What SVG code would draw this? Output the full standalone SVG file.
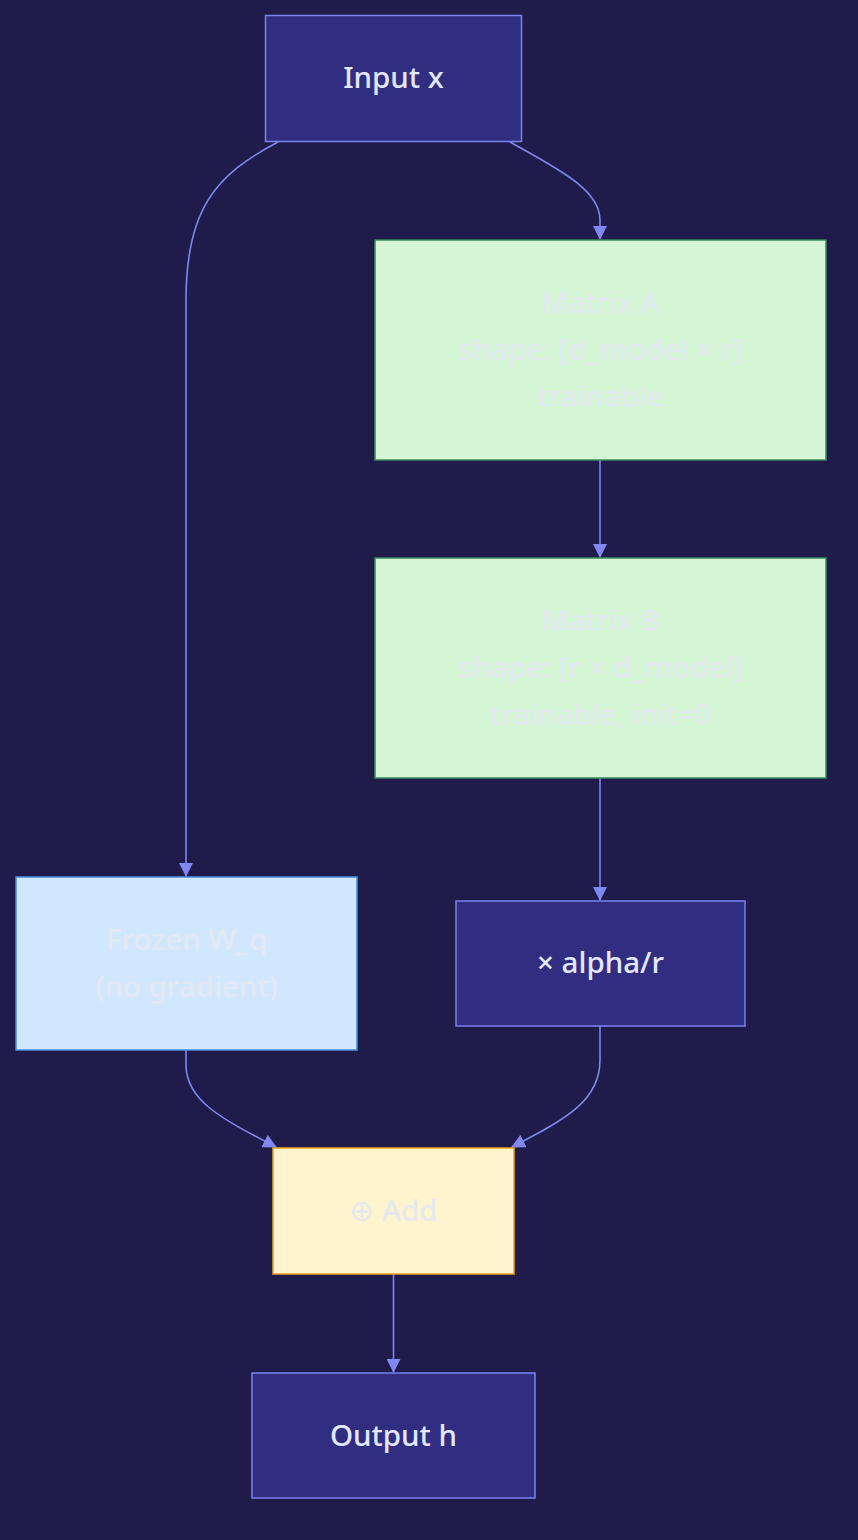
<svg xmlns="http://www.w3.org/2000/svg" width="858" height="1540" viewBox="0 0 858 1540">
<defs>
<marker id="arr" viewBox="0 0 14 14" refX="13" refY="7" markerWidth="14" markerHeight="14" markerUnits="userSpaceOnUse" orient="auto">
<path d="M0,0 L14,7 L0,14 z" fill="#8087f0"/>
</marker>
</defs>
<style>
.dark rect{fill:#312e81;stroke:#7c82ee;stroke-width:1.5}
.green rect{fill:#d5f6d5;stroke:#3d8b5e;stroke-width:1.5}
.blue rect{fill:#d1e7ff;stroke:#4a8fdc;stroke-width:1.5}
.yellow rect{fill:#fff4cd;stroke:#efa21a;stroke-width:1.5}
text{font-family:"Noto Sans","DejaVu Sans",sans-serif;font-size:29.5px;font-weight:500;text-anchor:middle;dominant-baseline:central}
.dark text{fill:#e4e8ff}
.light text{fill:#e3e9f0}
.edges path{fill:none;stroke:#8087f0;stroke-width:1.6}
</style>
<rect width="858" height="1540" fill="#1f1b4a"/>
<g class="edges">
<path d="M510,142 C560,170 600,190 600,220 L600,239" marker-end="url(#arr)"/>
<path d="M278,142 C215,175 186,210 186,300 L186,876" marker-end="url(#arr)"/>
<path d="M600,460 L600,557" marker-end="url(#arr)"/>
<path d="M600,778 L600,900" marker-end="url(#arr)"/>
<path d="M186,1050 L186,1065 C186,1100 220,1118 276,1147" marker-end="url(#arr)"/>
<path d="M600,1026 L600,1060 C600,1100 568,1118 512,1147" marker-end="url(#arr)"/>
<path d="M393.5,1274 L393.5,1372" marker-end="url(#arr)"/>
</g>
<g id="input" class="dark"><rect x="265.5" y="15.5" width="256" height="126"/><text x="393.5" y="76.5">Input x</text></g>
<g id="matA" class="green light"><rect x="375" y="240" width="451" height="220"/><text x="600.5" y="301.5">Matrix A</text><text x="600.5" y="348.5">shape: [d_model × r]</text><text x="600.5" y="395.5">trainable</text></g>
<g id="matB" class="green light"><rect x="375" y="558" width="451" height="220"/><text x="600.5" y="619.5">Matrix B</text><text x="600.5" y="666.5">shape: [r × d_model]</text><text x="600.5" y="713.5">trainable, init=0</text></g>
<g id="frozen" class="blue light"><rect x="16" y="877" width="341" height="173"/><text x="186.5" y="938.5">Frozen W_q</text><text x="186.5" y="985.5">(no gradient)</text></g>
<g id="scale" class="dark"><rect x="456" y="901" width="289" height="125"/><text x="600.5" y="961.5">× alpha/r</text></g>
<g id="add" class="yellow light"><rect x="273" y="1148" width="241" height="126"/><text x="393.5" y="1209.5">⊕ Add</text></g>
<g id="output" class="dark"><rect x="252" y="1373" width="283" height="125"/><text x="393.5" y="1434.5">Output h</text></g>
</svg>
